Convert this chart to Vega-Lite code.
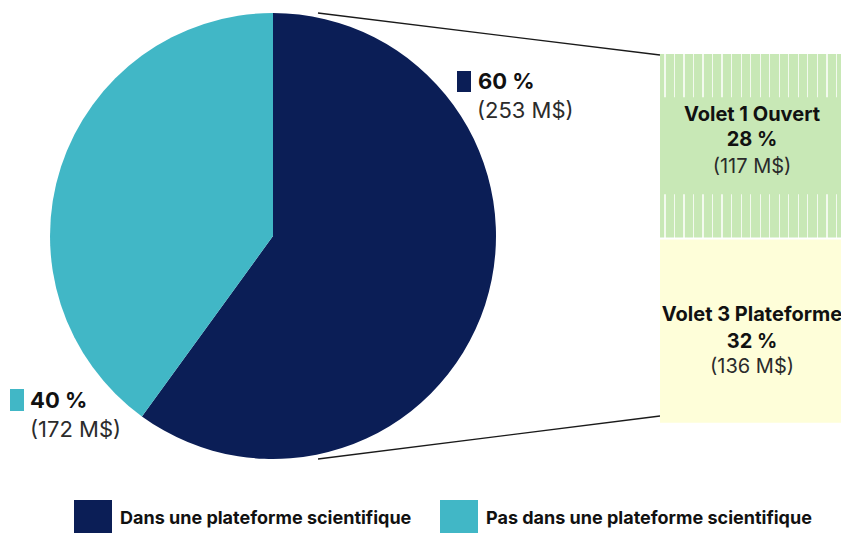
{
  "$schema": "https://vega.github.io/schema/vega-lite/v6.json",
  "width": 841,
  "height": 533,
  "autosize": {"type": "none"},
  "padding": 0,
  "background": "#ffffff",
  "config": {"view": {"stroke": null}},
  "datasets": {
    "repartition": [
      {"categorie": "Dans une plateforme scientifique", "part": 60, "montant": 253, "etiquette_part": "60 %", "etiquette_montant": "(253 M$)"},
      {"categorie": "Pas dans une plateforme scientifique", "part": 40, "montant": 172, "etiquette_part": "40 %", "etiquette_montant": "(172 M$)"}
    ],
    "volets": [
      {"volet": "Volet 1 Ouvert", "part": 28, "montant": 117, "etiquette_part": "28 %", "etiquette_montant": "(117 M$)"},
      {"volet": "Volet 3 Plateforme", "part": 32, "montant": 136, "etiquette_part": "32 %", "etiquette_montant": "(136 M$)"}
    ]
  },
  "resolve": {"scale": {"y": "independent"}},
  "layer": [
    {
      "layer": [
        {
          "data": {"name": "repartition"},
          "mark": {"type": "arc", "outerRadius": 223},
          "encoding": {
            "theta": {"field": "part", "type": "quantitative", "stack": true},
            "color": {
              "field": "categorie", "type": "nominal",
              "scale": {"domain": ["Dans une plateforme scientifique", "Pas dans une plateforme scientifique"], "range": ["#0B1E56", "#41B7C6"]},
              "legend": {
                "orient": "none", "legendX": 74, "legendY": 500, "direction": "horizontal",
                "title": null, "padding": 0, "symbolType": "square", "symbolSize": 1444,
                "symbolStrokeWidth": 0, "labelFont": "Inter", "labelFontSize": 18, "labelFontWeight": "bold",
                "labelColor": "#111111", "labelOffset": 8, "columnPadding": 28, "labelLimit": 500
              }
            },
            "x": {"datum": 273, "type": "quantitative", "scale": {"domain": [0, 841], "nice": false, "zero": false}, "axis": null},
            "y": {"datum": 236, "type": "quantitative", "scale": {"domain": [0, 533], "reverse": true, "nice": false, "zero": false}, "axis": null}
          }
        },
        {
          "data": {"values": [{}]},
          "mark": {"type": "rule", "color": "#1a1a1a", "strokeWidth": 1.3},
          "encoding": {
            "x": {"datum": 318, "type": "quantitative"},
            "y": {"datum": 13, "type": "quantitative"},
            "x2": {"datum": 660},
            "y2": {"datum": 55}
          }
        },
        {
          "data": {"values": [{}]},
          "mark": {"type": "rule", "color": "#1a1a1a", "strokeWidth": 1.3},
          "encoding": {
            "x": {"datum": 318, "type": "quantitative"},
            "y": {"datum": 459, "type": "quantitative"},
            "x2": {"datum": 660},
            "y2": {"datum": 416}
          }
        },
        {
          "data": {"name": "repartition"},
          "transform": [{"filter": "datum.categorie == 'Dans une plateforme scientifique'"}],
          "mark": {"type": "rect", "fill": "#0B1E56"},
          "encoding": {
            "x": {"datum": 457, "type": "quantitative"},
            "x2": {"datum": 471},
            "y": {"datum": 71, "type": "quantitative"},
            "y2": {"datum": 92}
          }
        },
        {
          "data": {"name": "repartition"},
          "transform": [{"filter": "datum.categorie == 'Dans une plateforme scientifique'"}],
          "mark": {"type": "text", "align": "left", "baseline": "middle", "font": "Inter", "fontWeight": "bold", "fontSize": 22, "color": "#111111"},
          "encoding": {
            "x": {"datum": 478, "type": "quantitative"},
            "y": {"datum": 82, "type": "quantitative"},
            "text": {"field": "etiquette_part"}
          }
        },
        {
          "data": {"name": "repartition"},
          "transform": [{"filter": "datum.categorie == 'Dans une plateforme scientifique'"}],
          "mark": {"type": "text", "align": "left", "baseline": "middle", "font": "Inter", "fontSize": 22, "color": "#2b2b2b"},
          "encoding": {
            "x": {"datum": 477, "type": "quantitative"},
            "y": {"datum": 111, "type": "quantitative"},
            "text": {"field": "etiquette_montant"}
          }
        },
        {
          "data": {"name": "repartition"},
          "transform": [{"filter": "datum.categorie == 'Pas dans une plateforme scientifique'"}],
          "mark": {"type": "rect", "fill": "#41B7C6"},
          "encoding": {
            "x": {"datum": 10, "type": "quantitative"},
            "x2": {"datum": 24},
            "y": {"datum": 389, "type": "quantitative"},
            "y2": {"datum": 411}
          }
        },
        {
          "data": {"name": "repartition"},
          "transform": [{"filter": "datum.categorie == 'Pas dans une plateforme scientifique'"}],
          "mark": {"type": "text", "align": "left", "baseline": "middle", "font": "Inter", "fontWeight": "bold", "fontSize": 22, "color": "#111111"},
          "encoding": {
            "x": {"datum": 30, "type": "quantitative"},
            "y": {"datum": 401, "type": "quantitative"},
            "text": {"field": "etiquette_part"}
          }
        },
        {
          "data": {"name": "repartition"},
          "transform": [{"filter": "datum.categorie == 'Pas dans une plateforme scientifique'"}],
          "mark": {"type": "text", "align": "left", "baseline": "middle", "font": "Inter", "fontSize": 22, "color": "#2b2b2b"},
          "encoding": {
            "x": {"datum": 30, "type": "quantitative"},
            "y": {"datum": 430, "type": "quantitative"},
            "text": {"field": "etiquette_montant"}
          }
        }
      ]
    },
    {
      "data": {"name": "volets"},
      "encoding": {
        "y": {
          "field": "volet", "type": "nominal", "sort": null,
          "scale": {"domain": ["Volet 1 Ouvert", "Volet 3 Plateforme"], "paddingInner": 0.011, "paddingOuter": 0.443, "align": 0.329},
          "axis": null
        }
      },
      "layer": [
        {
          "transform": [{"filter": "datum.volet == 'Volet 1 Ouvert'"}],
          "mark": {
            "type": "bar",
            "fill": {
              "gradient": "linear", "x1": 0, "x2": 1, "y1": 0, "y2": 0,
              "stops": [
                {"offset": 0, "color": "#C8E8B6"},
                {"offset": 0.0238, "color": "#C8E8B6"}, {"offset": 0.0238, "color": "#F3FAEE"}, {"offset": 0.0304, "color": "#F3FAEE"}, {"offset": 0.0304, "color": "#C8E8B6"},
                {"offset": 0.0764, "color": "#C8E8B6"}, {"offset": 0.0764, "color": "#F3FAEE"}, {"offset": 0.0830, "color": "#F3FAEE"}, {"offset": 0.0830, "color": "#C8E8B6"},
                {"offset": 0.1291, "color": "#C8E8B6"}, {"offset": 0.1291, "color": "#F3FAEE"}, {"offset": 0.1357, "color": "#F3FAEE"}, {"offset": 0.1357, "color": "#C8E8B6"},
                {"offset": 0.1817, "color": "#C8E8B6"}, {"offset": 0.1817, "color": "#F3FAEE"}, {"offset": 0.1883, "color": "#F3FAEE"}, {"offset": 0.1883, "color": "#C8E8B6"},
                {"offset": 0.2344, "color": "#C8E8B6"}, {"offset": 0.2344, "color": "#F3FAEE"}, {"offset": 0.2410, "color": "#F3FAEE"}, {"offset": 0.2410, "color": "#C8E8B6"},
                {"offset": 0.2870, "color": "#C8E8B6"}, {"offset": 0.2870, "color": "#F3FAEE"}, {"offset": 0.2936, "color": "#F3FAEE"}, {"offset": 0.2936, "color": "#C8E8B6"},
                {"offset": 0.3397, "color": "#C8E8B6"}, {"offset": 0.3397, "color": "#F3FAEE"}, {"offset": 0.3463, "color": "#F3FAEE"}, {"offset": 0.3463, "color": "#C8E8B6"},
                {"offset": 0.3923, "color": "#C8E8B6"}, {"offset": 0.3923, "color": "#F3FAEE"}, {"offset": 0.3990, "color": "#F3FAEE"}, {"offset": 0.3990, "color": "#C8E8B6"},
                {"offset": 0.4450, "color": "#C8E8B6"}, {"offset": 0.4450, "color": "#F3FAEE"}, {"offset": 0.4516, "color": "#F3FAEE"}, {"offset": 0.4516, "color": "#C8E8B6"},
                {"offset": 0.4976, "color": "#C8E8B6"}, {"offset": 0.4976, "color": "#F3FAEE"}, {"offset": 0.5043, "color": "#F3FAEE"}, {"offset": 0.5043, "color": "#C8E8B6"},
                {"offset": 0.5503, "color": "#C8E8B6"}, {"offset": 0.5503, "color": "#F3FAEE"}, {"offset": 0.5569, "color": "#F3FAEE"}, {"offset": 0.5569, "color": "#C8E8B6"},
                {"offset": 0.6029, "color": "#C8E8B6"}, {"offset": 0.6029, "color": "#F3FAEE"}, {"offset": 0.6096, "color": "#F3FAEE"}, {"offset": 0.6096, "color": "#C8E8B6"},
                {"offset": 0.6556, "color": "#C8E8B6"}, {"offset": 0.6556, "color": "#F3FAEE"}, {"offset": 0.6622, "color": "#F3FAEE"}, {"offset": 0.6622, "color": "#C8E8B6"},
                {"offset": 0.7082, "color": "#C8E8B6"}, {"offset": 0.7082, "color": "#F3FAEE"}, {"offset": 0.7149, "color": "#F3FAEE"}, {"offset": 0.7149, "color": "#C8E8B6"},
                {"offset": 0.7609, "color": "#C8E8B6"}, {"offset": 0.7609, "color": "#F3FAEE"}, {"offset": 0.7675, "color": "#F3FAEE"}, {"offset": 0.7675, "color": "#C8E8B6"},
                {"offset": 0.8135, "color": "#C8E8B6"}, {"offset": 0.8135, "color": "#F3FAEE"}, {"offset": 0.8202, "color": "#F3FAEE"}, {"offset": 0.8202, "color": "#C8E8B6"},
                {"offset": 0.8662, "color": "#C8E8B6"}, {"offset": 0.8662, "color": "#F3FAEE"}, {"offset": 0.8728, "color": "#F3FAEE"}, {"offset": 0.8728, "color": "#C8E8B6"},
                {"offset": 0.9188, "color": "#C8E8B6"}, {"offset": 0.9188, "color": "#F3FAEE"}, {"offset": 0.9255, "color": "#F3FAEE"}, {"offset": 0.9255, "color": "#C8E8B6"},
                {"offset": 0.9715, "color": "#C8E8B6"}, {"offset": 0.9715, "color": "#F3FAEE"}, {"offset": 0.9781, "color": "#F3FAEE"}, {"offset": 0.9781, "color": "#C8E8B6"},
                {"offset": 1, "color": "#C8E8B6"}
              ]
            }
          },
          "encoding": {
            "x": {"datum": 660, "type": "quantitative"},
            "x2": {"datum": 841}
          }
        },
        {
          "transform": [{"filter": "datum.volet == 'Volet 1 Ouvert'"}],
          "mark": {"type": "bar", "fill": "#C8E8B6", "height": {"band": 0.53}},
          "encoding": {
            "x": {"datum": 660, "type": "quantitative"},
            "x2": {"datum": 841}
          }
        },
        {
          "transform": [{"filter": "datum.volet == 'Volet 3 Plateforme'"}],
          "mark": {"type": "bar", "fill": "#FEFED9"},
          "encoding": {
            "x": {"datum": 660, "type": "quantitative"},
            "x2": {"datum": 841}
          }
        },
        {
          "mark": {"type": "text", "align": "center", "baseline": "middle", "font": "Inter", "fontWeight": "bold", "fontSize": 20, "color": "#111111",
                   "dy": {"expr": "datum.volet == 'Volet 1 Ouvert' ? -31 : -16"}},
          "encoding": {
            "x": {"datum": 752, "type": "quantitative"},
            "text": {"field": "volet"}
          }
        },
        {
          "mark": {"type": "text", "align": "center", "baseline": "middle", "font": "Inter", "fontWeight": "bold", "fontSize": 20, "color": "#111111",
                   "dy": {"expr": "datum.volet == 'Volet 1 Ouvert' ? -6 : 11"}},
          "encoding": {
            "x": {"datum": 752, "type": "quantitative"},
            "text": {"field": "etiquette_part"}
          }
        },
        {
          "mark": {"type": "text", "align": "center", "baseline": "middle", "font": "Inter", "fontSize": 20, "color": "#2b2b2b",
                   "dy": {"expr": "datum.volet == 'Volet 1 Ouvert' ? 21 : 36"}},
          "encoding": {
            "x": {"datum": 752, "type": "quantitative"},
            "text": {"field": "etiquette_montant"}
          }
        }
      ]
    }
  ]
}
